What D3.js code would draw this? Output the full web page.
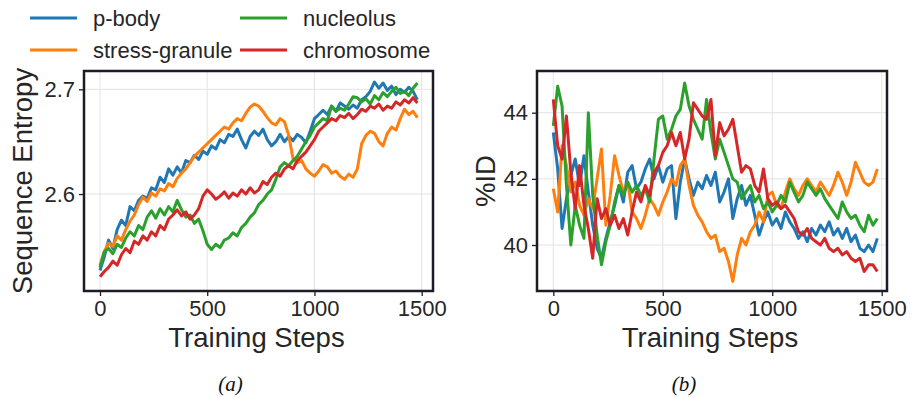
<!DOCTYPE html>
<html>
<head>
<meta charset="utf-8">
<script src="https://cdn.jsdelivr.net/npm/d3@7"></script>
<style>
  html, body { margin: 0; padding: 0; background: #fff; }
  svg { display: block; font-family: "Liberation Sans", Arial, sans-serif; }
</style>
</head>
<body>
<svg id="chart" width="912" height="398"></svg>
<script>
// training steps (shared grid, every 20 steps)
const steps = d3.range(0, 1481, 20);

const seriesNames = ['p-body', 'stress-granule', 'nucleolus', 'chromosome'];
const seriesColors = ['#1f77b4', '#ff7f0e', '#2ca02c', '#d62728'];

// (a) sequence entropy
const entropyPBody = [2.527,2.540,2.556,2.548,2.566,2.575,2.570,2.588,2.584,2.594,2.598,2.596,2.606,2.604,2.616,2.611,2.624,2.618,2.626,2.620,
  2.632,2.630,2.637,2.633,2.641,2.638,2.646,2.643,2.652,2.649,2.657,2.655,2.662,2.652,2.644,2.655,2.660,2.656,2.662,2.652,
  2.646,2.650,2.657,2.650,2.655,2.651,2.657,2.654,2.649,2.660,2.672,2.676,2.680,2.676,2.684,2.679,2.687,2.684,2.681,2.685,
  2.682,2.690,2.693,2.698,2.707,2.701,2.706,2.699,2.703,2.695,2.700,2.697,2.702,2.698,2.690];
const entropyStress = [2.532,2.545,2.553,2.550,2.560,2.556,2.566,2.574,2.580,2.590,2.597,2.593,2.601,2.598,2.605,2.603,2.610,2.607,2.615,2.620,
  2.624,2.630,2.636,2.640,2.644,2.648,2.652,2.656,2.660,2.664,2.662,2.668,2.672,2.670,2.677,2.683,2.686,2.684,2.679,2.673,
  2.668,2.666,2.672,2.669,2.656,2.634,2.630,2.632,2.624,2.620,2.617,2.622,2.628,2.626,2.620,2.622,2.617,2.614,2.619,2.616,
  2.624,2.648,2.656,2.660,2.658,2.650,2.646,2.658,2.664,2.661,2.672,2.681,2.676,2.679,2.673];
const entropyNucleolus = [2.530,2.545,2.548,2.543,2.552,2.549,2.558,2.564,2.560,2.570,2.566,2.578,2.584,2.577,2.586,2.580,2.588,2.583,2.594,2.585,
  2.578,2.580,2.572,2.576,2.565,2.552,2.547,2.552,2.549,2.556,2.558,2.563,2.560,2.568,2.572,2.578,2.582,2.590,2.594,2.600,
  2.604,2.614,2.626,2.630,2.627,2.632,2.636,2.643,2.650,2.656,2.664,2.668,2.672,2.670,2.684,2.679,2.682,2.680,2.686,2.693,
  2.692,2.688,2.691,2.686,2.694,2.690,2.697,2.693,2.698,2.702,2.696,2.698,2.694,2.701,2.706];
const entropyChromosome = [2.521,2.526,2.530,2.536,2.532,2.542,2.548,2.544,2.555,2.552,2.560,2.556,2.564,2.560,2.570,2.566,2.576,2.580,2.585,2.579,
  2.583,2.576,2.580,2.586,2.598,2.604,2.600,2.595,2.598,2.602,2.596,2.601,2.598,2.604,2.600,2.606,2.601,2.604,2.612,2.609,
  2.616,2.620,2.617,2.624,2.627,2.624,2.632,2.636,2.640,2.646,2.652,2.660,2.664,2.668,2.672,2.670,2.675,2.673,2.677,2.672,
  2.676,2.681,2.679,2.684,2.682,2.686,2.680,2.684,2.682,2.688,2.685,2.690,2.687,2.692,2.687];

// (b) %ID
const idPBody = [43.4,42.3,40.5,41.4,42.1,42.6,41.8,42.7,41.6,40.6,39.9,39.6,40.2,40.7,41.2,41.8,41.3,42.2,42.4,41.7,
  41.9,42.3,42.6,42.0,42.4,41.9,42.3,42.4,40.8,41.9,42.6,42.0,41.5,41.9,41.7,42.1,41.8,42.2,41.3,41.6,
  42.0,40.8,41.4,41.8,41.2,41.5,40.9,40.3,40.7,41.0,40.6,40.8,40.5,41.0,40.7,40.5,40.2,40.4,40.1,40.5,
  40.3,40.6,40.4,40.7,40.3,40.5,40.2,40.5,40.1,40.3,39.9,39.8,40.0,39.8,40.2];
const idStress = [41.7,41.0,43.0,42.4,41.6,41.9,41.2,40.9,41.4,41.1,42.0,42.9,40.6,41.5,42.7,42.1,41.6,41.9,41.0,40.8,
  40.5,40.9,41.4,41.2,40.9,41.3,41.6,42.0,41.8,42.4,42.6,41.8,41.2,40.9,40.7,40.4,40.2,40.3,39.8,39.9,
  39.5,38.9,39.7,40.2,40.0,40.4,40.6,41.0,40.7,41.5,41.6,41.2,41.1,41.6,42.0,41.7,41.5,41.8,42.0,41.8,
  41.6,41.9,41.7,41.5,41.8,42.2,41.9,41.5,41.9,42.5,42.2,41.9,41.8,41.9,42.3];
const idNucleolus = [43.6,44.8,44.2,41.8,40.0,41.2,40.6,40.2,44.0,41.5,40.3,39.4,40.1,40.6,41.3,41.8,41.5,41.9,41.6,41.8,
  41.5,41.7,41.3,42.6,43.8,43.9,43.2,43.5,43.9,44.1,44.9,44.2,43.8,43.5,43.2,44.4,43.4,42.6,43.2,42.8,
  42.4,42.0,41.9,41.4,41.6,41.8,41.3,41.5,41.1,41.3,41.0,41.2,41.5,41.3,41.9,41.6,41.3,41.5,41.9,41.7,
  41.5,41.7,41.4,41.2,41.0,40.8,41.3,41.0,40.8,40.9,40.6,40.4,40.9,40.6,40.8];
const idChromosome = [44.4,43.0,42.6,43.9,42.2,41.1,42.4,41.2,40.5,39.6,41.4,40.8,41.1,40.6,40.9,40.5,40.8,40.3,41.0,41.6,
  41.3,41.8,41.5,42.2,42.4,42.8,43.0,43.4,43.0,43.4,42.6,43.2,44.3,44.1,43.9,43.8,44.4,42.7,43.7,43.3,
  43.5,43.8,43.0,42.2,42.4,42.3,41.8,41.6,42.3,41.4,41.2,41.3,41.1,41.2,41.0,40.8,40.4,40.3,40.5,40.2,
  40.1,40.0,40.2,39.9,39.8,39.9,39.7,39.8,39.6,39.5,39.6,39.2,39.4,39.4,39.2];

const xTicks = [0, 500, 1000, 1500];
const entropyTicks = [2.6, 2.7];
const idTicks = [40, 42, 44];

const svg = d3.select('#chart');
const frameColor = '#1c1c28';
const textColor = '#262626';

function drawPanel(opts) {
  const {left, right, top, bottom, xDomain, yDomain, yTicks, yFormat, series, yLabel, yLabelX, caption} = opts;

  const x = d3.scaleLinear().domain(xDomain).range([left, right]);
  const y = d3.scaleLinear().domain(yDomain).range([bottom, top]);

  const g = svg.append('g');

  // grid
  g.append('g').selectAll('line')
    .data(xTicks)
    .enter()
    .append('line')
    .attr('x1', d => x(d)).attr('x2', d => x(d))
    .attr('y1', top).attr('y2', bottom)
    .attr('stroke', '#e3e3e3').attr('stroke-width', 1);
  g.append('g').selectAll('line')
    .data(yTicks)
    .enter()
    .append('line')
    .attr('x1', left).attr('x2', right)
    .attr('y1', d => y(d)).attr('y2', d => y(d))
    .attr('stroke', '#e3e3e3').attr('stroke-width', 1);

  const clipId = 'clip-' + left;
  svg.append('clipPath').attr('id', clipId)
    .append('rect')
    .attr('x', left).attr('y', top)
    .attr('width', right - left).attr('height', bottom - top);

  const line = d3.line()
    .x((d, i) => x(steps[i]))
    .y(d => y(d));

  g.append('g').attr('clip-path', `url(#${clipId})`)
    .selectAll('path')
    .data(series)
    .enter()
    .append('path')
    .attr('fill', 'none')
    .attr('stroke', (d, i) => seriesColors[i])
    .attr('stroke-width', 3)
    .attr('stroke-linejoin', 'round')
    .attr('d', d => line(d));

  // axes
  const xAxis = g.append('g')
    .attr('transform', `translate(0,${bottom})`)
    .call(d3.axisBottom(x).tickValues(xTicks).tickSize(5).tickPadding(4).tickFormat(d3.format('d')));
  const yAxis = g.append('g')
    .attr('transform', `translate(${left},0)`)
    .call(d3.axisLeft(y).tickValues(yTicks).tickSize(5).tickPadding(4).tickFormat(yFormat));

  [xAxis, yAxis].forEach(ax => {
    ax.select('.domain').remove();
    ax.selectAll('.tick line').attr('stroke', frameColor).attr('stroke-width', 1.3);
    ax.selectAll('.tick text')
      .attr('fill', textColor)
      .style('font-size', '22px')
      .style('font-family', '"Liberation Sans", Arial, sans-serif');
  });

  // frame
  g.append('rect')
    .attr('x', left).attr('y', top)
    .attr('width', right - left).attr('height', bottom - top)
    .attr('fill', 'none')
    .attr('stroke', frameColor)
    .attr('stroke-width', 2.5);

  // labels
  g.append('text')
    .attr('x', (left + right) / 2 - 2)
    .attr('y', 347)
    .attr('text-anchor', 'middle')
    .attr('fill', textColor)
    .style('font-size', '27.5px')
    .text('Training Steps');

  g.append('text')
    .attr('transform', `translate(${yLabelX},${(top + bottom) / 2}) rotate(-90)`)
    .attr('text-anchor', 'middle')
    .attr('fill', textColor)
    .style('font-size', '27.5px')
    .text(yLabel);

  g.append('text')
    .attr('x', (left + right) / 2 - 28)
    .attr('y', 391)
    .attr('text-anchor', 'middle')
    .attr('fill', '#111')
    .style('font-family', '"Liberation Serif", "Times New Roman", serif')
    .style('font-style', 'italic')
    .style('font-size', '21px')
    .text(caption);
}

drawPanel({
  left: 84, right: 433, top: 71, bottom: 291,
  xDomain: [-74.6, 1552.8],
  yDomain: [2.5074, 2.7175],
  yTicks: entropyTicks,
  yFormat: d3.format('.1f'),
  series: [entropyPBody, entropyStress, entropyNucleolus, entropyChromosome],
  yLabel: 'Sequence Entropy',
  yLabelX: 32,
  caption: '(a)'
});

drawPanel({
  left: 537, right: 887, top: 71, bottom: 291,
  xDomain: [-74.5, 1524.2],
  yDomain: [38.609, 45.261],
  yTicks: idTicks,
  yFormat: d3.format('d'),
  series: [idPBody, idStress, idNucleolus, idChromosome],
  yLabel: '%ID',
  yLabelX: 495,
  caption: '(b)'
});

// legend (two columns)
const legendPos = [
  {lx: 30, ty: 18}, {lx: 30, ty: 50},
  {lx: 240, ty: 18}, {lx: 240, ty: 50}
];
const legend = svg.append('g');
seriesNames.forEach((name, i) => {
  const p = legendPos[i];
  legend.append('line')
    .attr('x1', p.lx).attr('x2', p.lx + 47)
    .attr('y1', p.ty).attr('y2', p.ty)
    .attr('stroke', seriesColors[i])
    .attr('stroke-width', 3);
  legend.append('text')
    .attr('x', p.lx + 63)
    .attr('y', p.ty)
    .attr('dy', '0.35em')
    .attr('fill', textColor)
    .style('font-size', '22px')
    .text(name);
});
</script>
</body>
</html>
